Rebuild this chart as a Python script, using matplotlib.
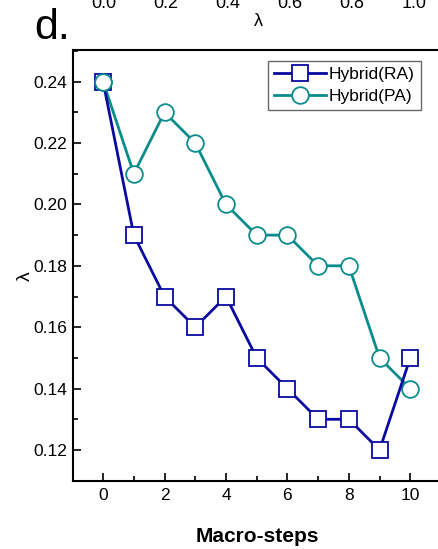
import matplotlib
matplotlib.use("Agg")
import matplotlib.pyplot as plt
from matplotlib.ticker import MultipleLocator, FormatStrFormatter

plt.rcParams['font.family'] = ['Liberation Sans', 'DejaVu Sans']

steps = list(range(11))
hybrid_ra = [0.24, 0.19, 0.17, 0.16, 0.17, 0.15, 0.14, 0.13, 0.13, 0.12, 0.15]
hybrid_pa = [0.24, 0.21, 0.23, 0.22, 0.20, 0.19, 0.19, 0.18, 0.18, 0.15, 0.14]
top_ticks = [0.0, 0.2, 0.4, 0.6, 0.8, 1.0]

RA_COLOR = '#0a0aa0'
PA_COLOR = '#0a8c8c'

W, H = 438, 549
fig = plt.figure(figsize=(W / 100, H / 100), dpi=100)

# main panel; right side runs past the figure edge
x0, x1 = 73, 441
y0, y1 = 50, 481
ax = fig.add_axes([x0 / W, 1 - y1 / H, (x1 - x0) / W, (y1 - y0) / H])

pa_style = dict(marker='o', ms=12, mfc='white', mec=PA_COLOR, mew=1.3)
ax.plot(steps, hybrid_pa, color=PA_COLOR, lw=2, label='Hybrid(PA)',
        zorder=3, **pa_style)
ax.plot(steps, hybrid_ra, color=RA_COLOR, lw=2, marker='s', ms=11,
        mfc='white', mec=RA_COLOR, mew=1.3, label='Hybrid(RA)', zorder=4)
# shared starting point: the circle sits on top of the square
ax.plot(steps, hybrid_pa, ls='none', markevery=[0], zorder=6, **pa_style)

ax.set_xlim(-0.98, 11.0)
ax.set_ylim(0.1099, 0.2503)
ax.xaxis.set_major_locator(MultipleLocator(2))
ax.xaxis.set_minor_locator(MultipleLocator(1))
ax.yaxis.set_major_locator(MultipleLocator(0.02))
ax.yaxis.set_minor_locator(MultipleLocator(0.01))
ax.yaxis.set_major_formatter(FormatStrFormatter('%.2f'))
ax.tick_params(which='both', direction='in', labelsize=12.5, width=1.2,
               top=False, right=False)
ax.tick_params(which='major', length=6)
ax.tick_params(axis='x', which='major', pad=5)
ax.tick_params(axis='y', which='major', pad=4)
ax.tick_params(which='minor', length=3.5)
for s in ax.spines.values():
    s.set_linewidth(1.5)

ax.set_xlabel('Macro-steps', fontsize=15, fontweight='bold', va='center')
ax.xaxis.set_label_coords((257 - x0) / (x1 - x0), -(536 - y1) / (y1 - y0))
ax.set_ylabel('λ', fontsize=14, va='center')
ax.yaxis.set_label_coords(-(x0 - 25) / (x1 - x0), 1 - (276 - y0) / (y1 - y0))

handles, labels = ax.get_legend_handles_labels()
order = [labels.index('Hybrid(RA)'), labels.index('Hybrid(PA)')]
leg = ax.legend([handles[i] for i in order], [labels[i] for i in order],
                loc='upper left',
                bbox_to_anchor=((268 - x0) / (x1 - x0), 1 - (61 - y0) / (y1 - y0)),
                fontsize=12.5, frameon=True, fancybox=False, edgecolor='#444444',
                borderpad=0.35, labelspacing=0.4, handlelength=3.0,
                handletextpad=0.15, borderaxespad=0)
leg.get_frame().set_linewidth(1.0)
leg.set_zorder(10)

# previous panel's axis labels peeking in at the top
axt = fig.add_axes([x0 / W, 1 + 2 / H, (x1 - x0) / W, 0.05])
axt.set_xlim(-0.1, 1.087)
axt.set_xticks(top_ticks)
axt.set_xticklabels([f'{t:.1f}' for t in top_ticks])
axt.tick_params(axis='x', length=0, labelsize=13, pad=-2.5)
axt.set_yticks([])
for s in axt.spines.values():
    s.set_visible(False)
axt.patch.set_visible(False)
fig.text(258 / W, 1 - 22 / H, 'λ', fontsize=13, ha='center', va='center')

fig.text(34 / W, 1 - 28 / H, 'd.', fontsize=31, ha='left', va='center')

fig.savefig('out.png', dpi=100)
